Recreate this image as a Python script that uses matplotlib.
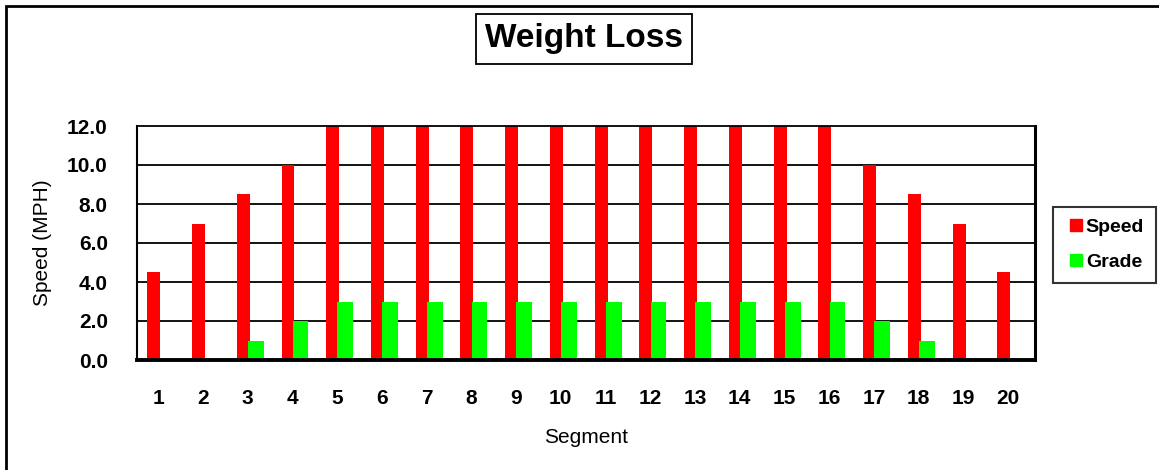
import numpy as np
import matplotlib as mpl
mpl.use('Agg')
import matplotlib.pyplot as plt
from matplotlib.patches import Rectangle
from matplotlib.lines import Line2D

plt.rcParams['font.family'] = ['Liberation Sans', 'DejaVu Sans']

# data
segments = [str(i) for i in range(1, 21)]
speed = [4.5, 7, 8.5, 10, 12, 12, 12, 12, 12, 12, 12, 12, 12, 12, 12, 12, 10, 8.5, 7, 4.5]
grade = [0, 0, 1, 2, 3, 3, 3, 3, 3, 3, 3, 3, 3, 3, 3, 3, 2, 1, 0, 0]
yticks = [0, 2, 4, 6, 8, 10, 12]

RED = '#FF0000'
GREEN = '#00FF00'

W, H = 1159, 470
fig = plt.figure(figsize=(W / 100., H / 100.), dpi=100)
ax = fig.add_axes([137. / W, 1 - 360. / H, (1035. - 137.) / W, (360. - 126.) / H])

x = np.arange(len(segments))
ax.bar(x - 0.24, speed, width=0.29, align='edge', color=RED, zorder=3)
ax.bar(x + 0.01, grade, width=0.35, align='edge', color=GREEN, zorder=4)

ax.set_xlim(-0.47, 19.6)
ax.set_ylim(0, 12)
ax.set_yticks(yticks)
ax.set_yticklabels(['%.1f' % v for v in yticks], fontsize=15, fontweight='bold')
ax.set_xticks(x)
ax.set_xticklabels(segments, fontsize=15, fontweight='bold')
ax.tick_params(axis='both', length=0)
ax.tick_params(axis='y', pad=21)
ax.tick_params(axis='x', pad=21)
for v in yticks[1:-1]:
    ax.axhline(v, color='black', lw=1.3, zorder=2)

ax.spines['top'].set_linewidth(1.3)
ax.spines['left'].set_linewidth(1.5)
ax.spines['right'].set_linewidth(2.2)
ax.spines['bottom'].set_linewidth(2.8)
for s in ax.spines.values():
    s.set_zorder(5)

ax.set_ylabel('Speed (MPH)', fontsize=15, labelpad=11)
ax.set_xlabel('Segment', fontsize=15, labelpad=14)

# title in a box
fig.text(584. / W, 1 - 39. / H, 'Weight Loss', fontsize=24, fontweight='bold',
         ha='center', va='center',
         bbox=dict(boxstyle='square,pad=0.28', fc='white', ec='black', lw=1.3))

handles = [Line2D([], [], ls='none', marker='s', ms=8, mfc=RED, mec=RED),
           Line2D([], [], ls='none', marker='s', ms=8.5, mfc=GREEN, mec=GREEN)]
leg = fig.legend(handles, ['Speed', 'Grade'], loc='upper left',
                 bbox_to_anchor=(1053. / W, 1 - 207. / H),
                 prop={'weight': 'bold', 'size': 14},
                 frameon=True, fancybox=False, handlelength=1.18,
                 handletextpad=-0.09, borderpad=0.6,
                 labelspacing=0.88, borderaxespad=0)
leg.get_frame().set_edgecolor('black')
leg.get_frame().set_linewidth(1.5)

# outer chart border
fig.patches.append(Rectangle((6. / W, -0.1), 1.2, 1.1 - 6. / H,
                             transform=fig.transFigure, fill=False,
                             ec='black', lw=2))

fig.savefig('out.png', dpi=100)
